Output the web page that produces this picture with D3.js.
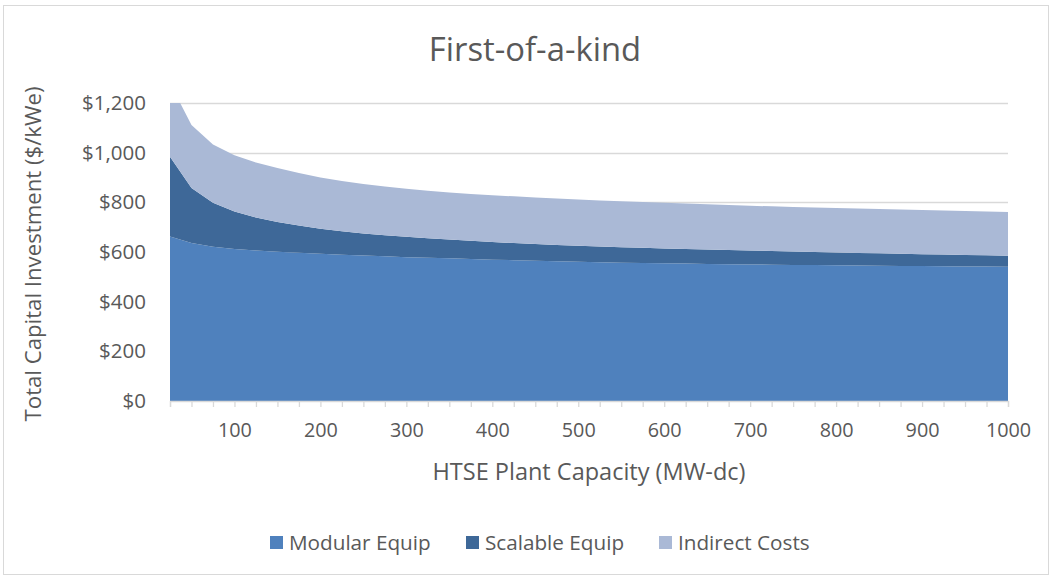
<!DOCTYPE html>
<html>
<head>
<meta charset="utf-8">
<script src="https://cdn.jsdelivr.net/npm/d3@7"></script>
<style>
  body { margin: 0; background: #fff; }
  text { font-family: "Open Sans", sans-serif; fill: #595959; }
</style>
</head>
<body>
<svg id="chart" width="1053" height="578"></svg>
<script>
// HTSE plant capacity categories (MW-dc)
const capacity = [25, 50, 75, 100, 125, 150, 175, 200, 225, 250,
                  275, 300, 325, 350, 375, 400, 425, 450, 475, 500,
                  525, 550, 575, 600, 625, 650, 675, 700, 725, 750,
                  775, 800, 825, 850, 875, 900, 925, 950, 975, 1000];

// Cost components ($/kWe)
const modularEquip = [662, 636, 621, 612, 606, 601, 597, 593, 589, 586,
                      583, 579, 577, 575, 572, 569, 567, 565, 563, 561,
                      559, 557, 556, 555, 554, 552, 551, 550, 549, 548,
                      548, 547, 546, 545, 544, 544, 543, 542, 542, 541];
const scalableEquip = [322, 222, 177, 151, 133, 120, 110, 101, 95, 89,
                       84, 82, 78, 75, 73, 71, 69, 67, 65, 64,
                       63, 62, 61, 59, 58, 58, 57, 56, 55, 54,
                       52, 51, 50, 50, 49, 47, 47, 46, 45, 44];
const indirectCosts = [296, 253, 235, 227, 221, 217, 211, 206, 202, 199,
                       197, 194, 192, 190, 189, 189, 188, 187, 187, 186,
                       185, 185, 184, 184, 183, 182, 181, 180, 180, 179,
                       179, 179, 179, 178, 178, 178, 177, 177, 176, 176];

const seriesKeys = ["modular", "scalable", "indirect"];
const seriesNames = ["Modular Equip", "Scalable Equip", "Indirect Costs"];
const seriesColors = ["#4f81bd", "#3e6898", "#aab9d6"];

const yTicks = [0, 200, 400, 600, 800, 1000, 1200];
const xLabels = [100, 200, 300, 400, 500, 600, 700, 800, 900, 1000];

const svg = d3.select("#chart");
const plot = { left: 170, right: 1008, top: 103, bottom: 401 };

// chart frame
svg.append("rect")
  .attr("x", 3.5).attr("y", 5.5)
  .attr("width", 1045).attr("height", 569)
  .attr("fill", "#fff").attr("stroke", "#d9d9d9");

const x = d3.scalePoint().domain(capacity).range([plot.left, plot.right]).padding(0);
const y = d3.scaleLinear().domain([0, 1200]).range([plot.bottom, plot.top]);

// horizontal gridlines
svg.append("g").selectAll("line")
  .data(yTicks.filter(d => d > 0))
  .join("line")
  .attr("x1", plot.left).attr("x2", plot.right)
  .attr("y1", d => Math.round(y(d)) + 0.5).attr("y2", d => Math.round(y(d)) + 0.5)
  .attr("stroke", "#d9d9d9").attr("stroke-width", 1.3);

// stacked areas
const rows = capacity.map((c, i) => ({
  capacity: c,
  modular: modularEquip[i],
  scalable: scalableEquip[i],
  indirect: indirectCosts[i]
}));
const stacked = d3.stack().keys(seriesKeys)(rows);

svg.append("clipPath").attr("id", "plot-clip")
  .append("rect")
  .attr("x", plot.left).attr("y", plot.top)
  .attr("width", plot.right - plot.left).attr("height", plot.bottom - plot.top);

const area = d3.area()
  .x(d => x(d.data.capacity))
  .y0(d => y(d[0]))
  .y1(d => y(d[1]));

svg.append("g").attr("clip-path", "url(#plot-clip)")
  .selectAll("path")
  .data(stacked)
  .join("path")
  .attr("d", area)
  .attr("fill", (d, i) => seriesColors[i]);

// x axis
const xAxis = svg.append("g")
  .attr("transform", `translate(0,${plot.bottom})`)
  .call(d3.axisBottom(x)
    .tickSize(6)
    .tickPadding(16)
    .tickFormat(d => xLabels.includes(d) ? d : ""));
xAxis.select(".domain").attr("stroke", "#d9d9d9").attr("stroke-width", 1.3);
xAxis.selectAll(".tick line").attr("stroke", "#d9d9d9").attr("stroke-width", 1.3);
xAxis.selectAll(".tick text").attr("font-size", 19.8).attr("fill", "#595959")
  .style("font-family", "'Open Sans', sans-serif");

// y axis labels
const yAxis = svg.append("g")
  .attr("transform", `translate(${plot.left},0)`)
  .call(d3.axisLeft(y)
    .tickValues(yTicks)
    .tickSize(0)
    .tickPadding(24)
    .tickFormat(d => "$" + d3.format(",")(d)));
yAxis.select(".domain").remove();
yAxis.selectAll(".tick text").attr("font-size", 20.5).attr("fill", "#595959")
  .style("font-family", "'Open Sans', sans-serif");

// titles
svg.append("text")
  .attr("x", 535).attr("y", 61)
  .attr("text-anchor", "middle")
  .attr("font-size", 32.8)
  .text("First-of-a-kind");

svg.append("text")
  .attr("x", (plot.left + plot.right) / 2).attr("y", 480)
  .attr("text-anchor", "middle")
  .attr("font-size", 23.5)
  .text("HTSE Plant Capacity (MW-dc)");

svg.append("text")
  .attr("transform", `translate(41,254) rotate(-90)`)
  .attr("text-anchor", "middle")
  .attr("font-size", 22.2)
  .text("Total Capital Investment ($/kWe)");

// legend
const legendX = [270, 466, 659];
const legend = svg.append("g").selectAll("g")
  .data(seriesNames)
  .join("g")
  .attr("transform", (d, i) => `translate(${legendX[i]},536)`);
legend.append("rect")
  .attr("width", 13).attr("height", 13)
  .attr("fill", (d, i) => seriesColors[i]);
legend.append("text")
  .attr("x", 19).attr("y", 14)
  .attr("font-size", 20.7)
  .text(d => d);
</script>
</body>
</html>
